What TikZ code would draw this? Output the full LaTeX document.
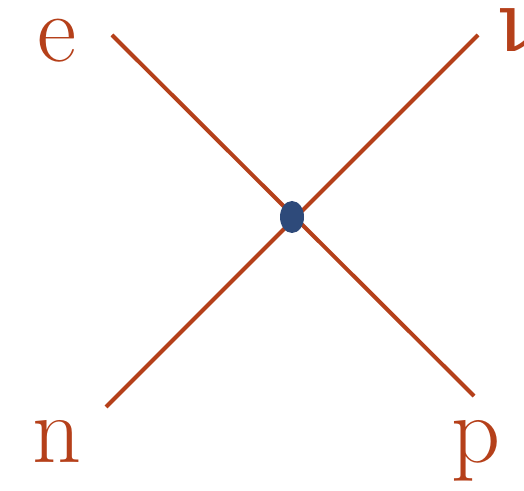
\documentclass[tikz,border=0pt]{standalone}
\usepackage{fontspec}
\newfontfamily\grkfont{DejaVu Serif}
\usetikzlibrary{shapes.geometric}
\begin{document}
\begin{tikzpicture}[x=0.75pt,y=-0.75pt,
  line/.style={draw=linec,line width=3pt},
  lab/.style={text=linec,font=\fontsize{72}{72}\selectfont,inner sep=0pt}]
\definecolor{linec}{HTML}{B5401A}
\definecolor{dotc}{HTML}{2E4A7A}
\useasboundingbox (0,0) rectangle (524,491);
\coordinate (ea) at (112,35);
\coordinate (pb) at (474,396);
\coordinate (na) at (106,407);
\coordinate (nub) at (478,35);
\node[lab,anchor=base] (e) at (57,62) {e};
\node[lab,anchor=base] (n) at (57,462) {n};
\node[lab,anchor=base] (p) at (476,462) {p};
\node[lab,anchor=base west,font=\fontsize{62}{62}\selectfont] (nu) at (497,52) {\grkfont ν};
\draw[line] (ea) -- (pb);
\draw[line] (na) -- (nub);
\node[ellipse,fill=dotc,minimum width=18pt,minimum height=24pt,inner sep=0pt] (v) at (292,217) {};
\end{tikzpicture}
\end{document}
